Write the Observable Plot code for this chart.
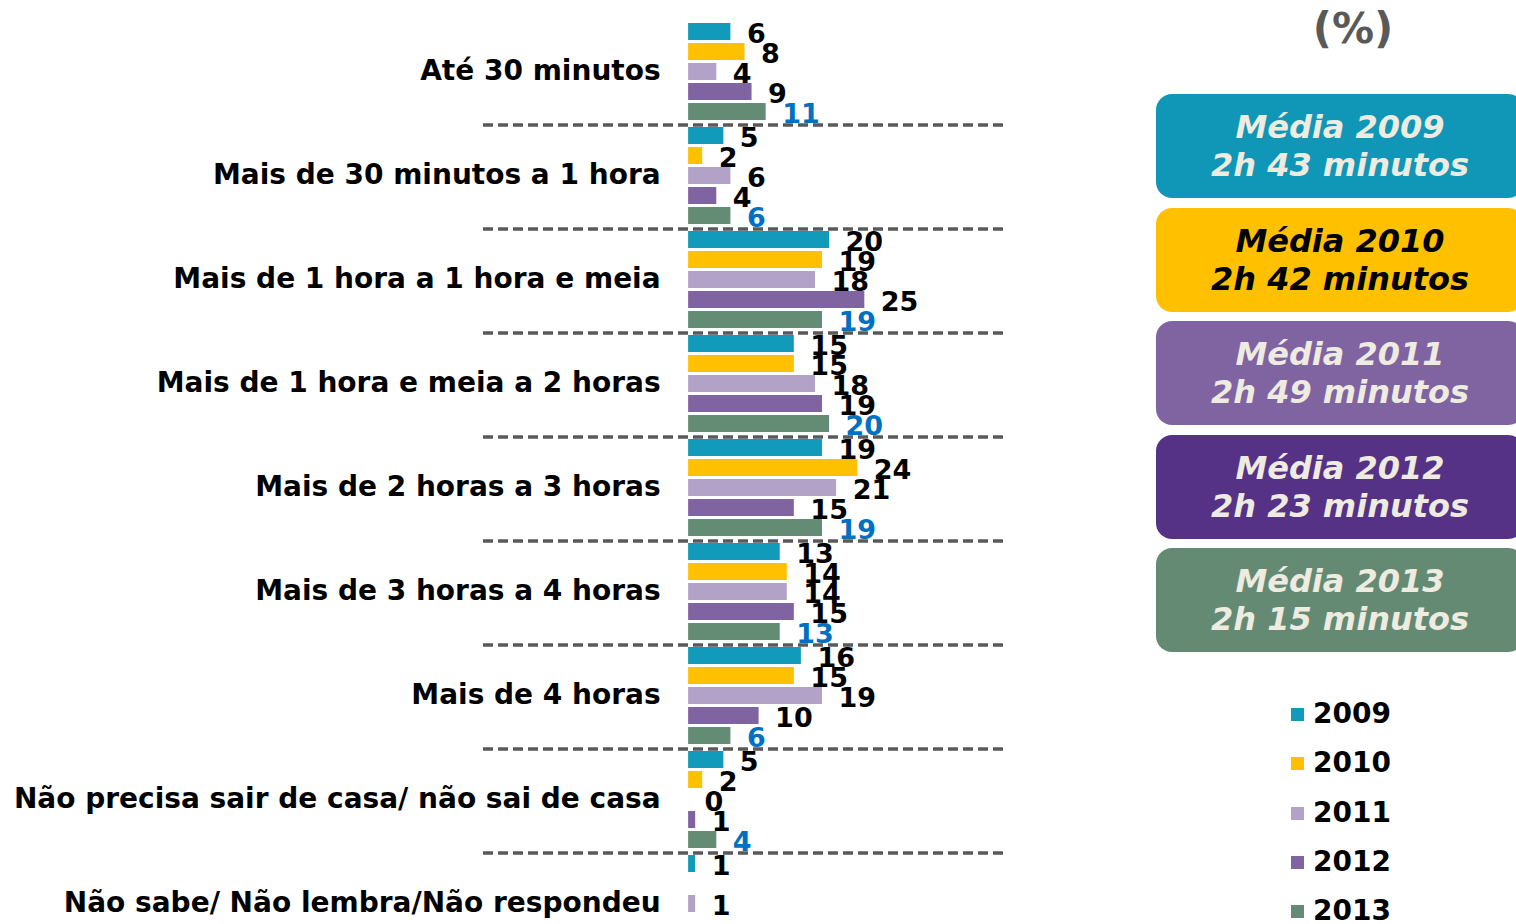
<!DOCTYPE html>
<html>
<head>
<meta charset="utf-8">
<script src="https://cdn.jsdelivr.net/npm/d3@7"></script>
<script src="https://cdn.jsdelivr.net/npm/@observablehq/plot@0.6"></script>
<style>
  body { margin: 0; background: #fff; font-family: "DejaVu Sans", Verdana, sans-serif; }
  #wrap { position: relative; width: 1516px; height: 924px; overflow: hidden; }
  #chart { position: absolute; left: 0; top: 0; }
  .pct { position: absolute; left: 1290px; top: 4px; width: 126px; text-align: center; font-weight: bold; font-size: 42px; color: #595959; }
  .box { position: absolute; left: 1156px; width: 368px; height: 104px; border-radius: 16px; font-weight: bold; font-style: italic; font-size: 32px; line-height: 38px; text-align: center; box-sizing: border-box; padding-top: 14px; }
  .leg { position: absolute; left: 1291px; font-weight: bold; font-size: 28px; color: #000; height: 30px; line-height: 30px; }
  .leg span.sw { display: inline-block; width: 13px; height: 13px; margin-right: 9px; vertical-align: 2px; }
</style>
</head>
<body>
<div id="wrap"><div id="chart"></div></div>
<script>
const categories = [
  "Até 30 minutos",
  "Mais de 30 minutos a 1 hora",
  "Mais de 1 hora a 1 hora e meia",
  "Mais de 1 hora e meia a 2 horas",
  "Mais de 2 horas a 3 horas",
  "Mais de 3 horas a 4 horas",
  "Mais de 4 horas",
  "Não precisa sair de casa/ não sai de casa",
  "Não sabe/ Não lembra/Não respondeu"
];
const years = ["2009", "2010", "2011", "2012", "2013"];
const v2009 = [6, 5, 20, 15, 19, 13, 16, 5, 1];
const v2010 = [8, 2, 19, 15, 24, 14, 15, 2, null];
const v2011 = [4, 6, 18, 18, 21, 14, 19, 0, 1];
const v2012 = [9, 4, 25, 19, 15, 15, 10, 1, null];
const v2013 = [11, 6, 19, 20, 19, 13, 6, 4, null];
const barColors = ["#119AB9", "#FFC000", "#B3A2C7", "#8064A2", "#648B74"];
const boxColors = ["#1097B8", "#FFC000", "#8064A2", "#553285", "#648A74"];
const boxText = ["#EEEBE0", "#000000", "#EEEBE0", "#EEEBE0", "#EEEBE0"];
const averages = ["2h 43 minutos", "2h 42 minutos", "2h 49 minutos", "2h 23 minutos", "2h 15 minutos"];

const series = [v2009, v2010, v2011, v2012, v2013];
const data = [];
categories.forEach((c, i) => {
  years.forEach((y, j) => {
    const v = series[j][i];
    if (v !== null) data.push({cat: c, year: y, value: v});
  });
});
const separators = categories.slice(0, categories.length - 1);

const chart = Plot.plot({
  width: 1516,
  height: 956,
  marginLeft: 483,
  marginRight: 510,
  marginTop: 19,
  marginBottom: 1,
  style: {fontFamily: "'DejaVu Sans', Verdana, sans-serif", background: "transparent"},
  x: {domain: [-29.1, 45.1], axis: null},
  y: {domain: years, axis: null, paddingInner: 0.15, paddingOuter: 0.175},
  fy: {domain: categories, axis: null, padding: 0},
  color: {domain: years, range: barColors},
  marks: [
    Plot.ruleY(separators, {fy: d => d, y: () => "2013", dy: 13, stroke: "#595959", strokeWidth: 3.5, strokeDasharray: "10,5"}),
    Plot.barX(data, {fy: "cat", y: "year", x: "value", fill: "year"}),
    Plot.text(data.filter(d => d.year !== "2013"), {fy: "cat", y: "year", x: "value", text: d => String(d.value), dx: 16, dy: 2, textAnchor: "start", fill: "#000", fontSize: 27, fontWeight: "bold"}),
    Plot.text(data.filter(d => d.year === "2013"), {fy: "cat", y: "year", x: "value", text: d => String(d.value), dx: 16, dy: 2, textAnchor: "start", fill: "#0070C0", fontSize: 27, fontWeight: "bold"}),
    Plot.text(categories, {fy: d => d, x: () => 0, text: d => d, dx: -28, textAnchor: "end", fill: "#000", fontSize: 28, fontWeight: "bold"})
  ]
});
document.getElementById("chart").appendChild(chart);

const wrap = document.getElementById("wrap");
const pct = document.createElement("div");
pct.className = "pct";
pct.textContent = "(%)";
wrap.appendChild(pct);

const boxTops = [94, 208, 321, 435, 548];
years.forEach((y, i) => {
  const b = document.createElement("div");
  b.className = "box";
  b.style.top = boxTops[i] + "px";
  b.style.background = boxColors[i];
  b.style.color = boxText[i];
  b.innerHTML = "Média " + y + "<br>" + averages[i];
  wrap.appendChild(b);
});

const legTops = [699, 748, 798, 847, 896];
years.forEach((y, i) => {
  const l = document.createElement("div");
  l.className = "leg";
  l.style.top = legTops[i] + "px";
  l.innerHTML = '<span class="sw" style="background:' + barColors[i] + '"></span>' + y;
  wrap.appendChild(l);
});
</script>
</body>
</html>
